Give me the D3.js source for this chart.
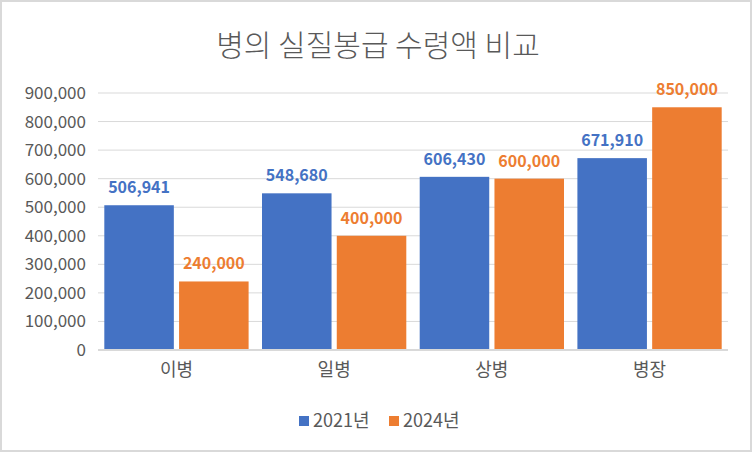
<!DOCTYPE html>
<html>
<head>
<meta charset="utf-8">
<script src="https://cdn.jsdelivr.net/npm/d3@7"></script>
<style>
  body { margin: 0; background: #fff; }
  svg { display: block; font-family: "Noto Sans CJK KR", "Noto Sans", sans-serif; }
</style>
</head>
<body>
<div id="chart"></div>
<script>
const ranks = ["이병", "일병", "상병", "병장"];
const seriesNames = ["2021년", "2024년"];
const pay2021 = [506941, 548680, 606430, 671910];
const pay2024 = [240000, 400000, 600000, 850000];
const yTicks = [0, 100000, 200000, 300000, 400000, 500000, 600000, 700000, 800000, 900000];
const colors = ["#4472C4", "#ED7D31"];

const W = 752, H = 452;
const margin = { top: 93, right: 24, bottom: 102, left: 98 };

const svg = d3.select("#chart").append("svg")
    .attr("width", W)
    .attr("height", H);

// chart border
svg.append("rect")
    .attr("x", 1).attr("y", 1)
    .attr("width", W - 2).attr("height", H - 2)
    .attr("fill", "#fff")
    .attr("stroke", "#d9d9d9")
    .attr("stroke-width", 2);

svg.append("text")
    .attr("x", W / 2 + 2).attr("y", 56)
    .attr("text-anchor", "middle")
    .attr("fill", "#595959")
    .attr("font-size", 30)
    .attr("font-weight", 300)
    .text("병의 실질봉급 수령액 비교");

const x0 = d3.scaleBand()
    .domain(ranks)
    .range([margin.left, W - margin.right])
    .paddingInner(0.085)
    .paddingOuter(0.04);

const x1 = d3.scaleBand()
    .domain(seriesNames)
    .range([0, x0.bandwidth()])
    .paddingInner(0.07);

const y = d3.scaleLinear()
    .domain([0, 900000])
    .range([H - margin.bottom, margin.top]);

const fmt = d3.format(",");

// gridlines
svg.append("g")
    .selectAll("line")
    .data(yTicks)
    .join("line")
    .attr("x1", margin.left)
    .attr("x2", W - margin.right)
    .attr("y1", d => y(d))
    .attr("y2", d => y(d))
    .attr("stroke", "#d9d9d9")
    .attr("stroke-width", 1);

// y axis
const yAxis = svg.append("g")
    .attr("transform", `translate(${margin.left - 12},0)`)
    .call(d3.axisLeft(y).tickValues(yTicks).tickFormat(fmt).tickSize(0).tickPadding(0));
yAxis.select(".domain").remove();
yAxis.selectAll("text")
    .attr("fill", "#595959")
    .attr("font-size", 17)
    .attr("font-family", "Noto Sans CJK KR");

// bars
const series = [pay2021, pay2024];
const groups = svg.append("g")
    .selectAll("g")
    .data(ranks)
    .join("g")
    .attr("transform", d => `translate(${x0(d)},0)`);

groups.selectAll("rect")
    .data((d, i) => series.map((s, j) => ({ key: seriesNames[j], value: s[i], c: colors[j] })))
    .join("rect")
    .attr("x", d => x1(d.key))
    .attr("width", x1.bandwidth())
    .attr("y", d => y(d.value))
    .attr("height", d => y(0) - y(d.value))
    .attr("fill", d => d.c);

groups.selectAll("text.lbl")
    .data((d, i) => series.map((s, j) => ({ key: seriesNames[j], value: s[i], c: colors[j] })))
    .join("text")
    .attr("class", "lbl")
    .attr("x", d => x1(d.key) + x1.bandwidth() / 2)
    .attr("y", d => y(d.value) - 12)
    .attr("text-anchor", "middle")
    .attr("fill", d => d.c)
    .attr("font-size", 16)
    .attr("font-weight", "bold")
    .text(d => fmt(d.value));

// baseline
svg.append("line")
    .attr("x1", margin.left).attr("x2", W - margin.right)
    .attr("y1", y(0)).attr("y2", y(0))
    .attr("stroke", "#d9d9d9")
    .attr("stroke-width", 2);

// x axis labels
const xAxis = svg.append("g")
    .attr("transform", `translate(0,${y(0)})`)
    .call(d3.axisBottom(x0).tickSize(0).tickPadding(13));
xAxis.select(".domain").remove();
xAxis.selectAll("text")
    .attr("fill", "#595959")
    .attr("font-size", 18)
    .attr("font-family", "Noto Sans CJK KR");

// legend
const legend = svg.append("g").attr("transform", "translate(299,421)");
const item = legend.selectAll("g")
    .data(seriesNames)
    .join("g")
    .attr("transform", (d, i) => `translate(${i * 90},0)`);
item.append("rect")
    .attr("x", 0).attr("y", -5)
    .attr("width", 10).attr("height", 10)
    .attr("fill", (d, i) => colors[i]);
item.append("text")
    .attr("x", 14).attr("y", 0)
    .attr("dy", "0.35em")
    .attr("fill", "#595959")
    .attr("font-size", 18)
    .text(d => d);
</script>
</body>
</html>
